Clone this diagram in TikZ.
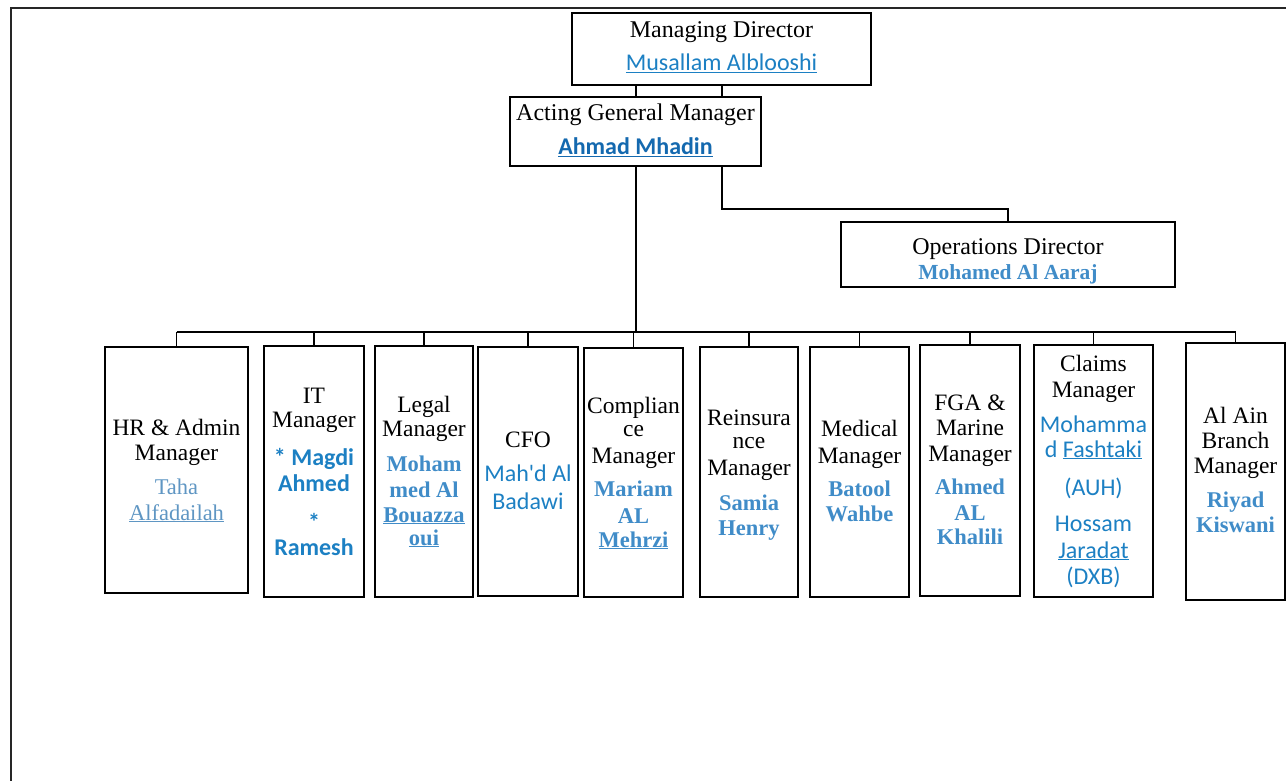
\documentclass[tikz,border=0pt]{standalone}
\usepackage{fontspec}
\setmainfont{Liberation Serif}
\newfontfamily\calib{Carlito}
\usetikzlibrary{fit}
\definecolor{nameblue}{RGB}{64,140,200}
\definecolor{sansblue}{RGB}{28,128,195}
\definecolor{darkblue}{RGB}{20,105,175}
\definecolor{lightblue}{RGB}{95,150,195}
\tikzset{
  box/.style={draw=black, line width=1.8pt, inner sep=0pt},
  link/.style={draw=black, line width=1.6pt},
  frameline/.style={draw=black!85, line width=1.2pt},
  ttl/.style={anchor=base, inner sep=0pt, font=\fontsize{23.5}{26}\selectfont},
  ttlbig/.style={anchor=base, inner sep=0pt, font=\fontsize{24}{26}\selectfont},
  nsr/.style={anchor=base, inner sep=0pt, text=nameblue, font=\fontsize{22.5}{25}\selectfont\bfseries},
  nsf/.style={anchor=base, inner sep=0pt, text=sansblue, font=\fontsize{24}{26}\selectfont\calib},
  nsfb/.style={anchor=base, inner sep=0pt, text=sansblue, font=\fontsize{24}{26}\selectfont\calib\bfseries},
}
\begin{document}
\begin{tikzpicture}[x=1pt,y=-1pt]
\useasboundingbox (0,0) rectangle (1286,781);
\draw[frameline] (11,781) -- (11,8) -- (1286,8);

% top boxes
\node[box, fit={(572,13) (871,85)}] (md) {};
\node[box, fit={(510,97) (761,166)}] (agm) {};
\node[box, fit={(841,222) (1175,287)}] (ops) {};

% bottom boxes
\node[box, fit={(105,347) (248,593)}] (hr) {};
\node[box, fit={(264,346) (364,597)}] (it) {};
\node[box, fit={(375,346) (473,597)}] (legal) {};
\node[box, fit={(478,347) (578,596)}] (cfo) {};
\node[box, fit={(584,348) (683,597)}] (comp) {};
\node[box, fit={(700,347) (798,597)}] (reins) {};
\node[box, fit={(810,347) (909,597)}] (med) {};
\node[box, fit={(920,345) (1020,596)}] (fga) {};
\node[box, fit={(1034,345) (1153,597)}] (claims) {};
\node[box, fit={(1186,343) (1285,600)}] (alain) {};

% connector coordinates
\coordinate (c1) at (636,0);
\coordinate (c2) at (722,0);
\coordinate (bus) at (0,332);
\coordinate (elbow) at (0,209);

\draw[link] (c1 |- md.south) -- (c1 |- agm.north);
\draw[link] (c2 |- md.south) -- (c2 |- agm.north);
\draw[link] (c1 |- agm.south) -- (c1 |- bus);
\draw[link] (c2 |- agm.south) |- (ops.north |- elbow) -- (ops.north);
\draw[link] (hr.north |- bus) -- (alain.north |- bus);
\foreach \b in {hr,it,legal,cfo,comp,reins,med,fga,claims,alain}
  \draw[link] (\b.north |- bus) -- (\b.north);

% top texts
\node[ttlbig] (md-a) at (721.5,38) {Managing Director};
\node[nsf] (md-b) at (721.5,71) {\underline{Musallam Alblooshi}};
\node[ttlbig] (agm-a) at (635.5,121) {Acting General Manager};
\node[nsfb, text=darkblue] (agm-b) at (635.5,155) {\underline{Ahmad Mhadin}};
\node[ttlbig] (ops-a) at (1008,254) {Operations Director};
\node[nsr, font=\fontsize{21.5}{24}\selectfont\bfseries] (ops-b) at (1008,279) {Mohamed Al Aaraj};

% HR
\node[ttl] (hr-a) at (176.5,435) {HR \& Admin};
\node[ttl] (hr-b) at (176.5,460) {Manager};
\node[nsr, text=lightblue, font=\fontsize{22.5}{25}\selectfont] (hr-c) at (176.5,494) {Taha};
\node[nsr, text=lightblue, font=\fontsize{22.5}{25}\selectfont] (hr-d) at (176.5,520) {\underline{Alfadailah}};
% IT
\node[ttl] (it-a) at (314,403) {IT};
\node[ttl] (it-b) at (314,427) {Manager};
\node[nsfb] (it-c) at (314,465) {* Magdi};
\node[nsfb] (it-d) at (314,491) {Ahmed};
\node[nsfb] (it-e) at (314,530) {*};
\node[nsfb] (it-f) at (314,555) {Ramesh};
% Legal
\node[ttl] (legal-a) at (424,412) {Legal};
\node[ttl] (legal-b) at (424,436) {Manager};
\node[nsr] (legal-c) at (424,471) {Moham};
\node[nsr] (legal-d) at (424,497) {med Al};
\node[nsr] (legal-e) at (424,522) {\underline{Bouazza}};
\node[nsr] (legal-f) at (424,545) {\underline{oui}};
% CFO
\node[ttl] (cfo-a) at (528,447) {CFO};
\node[nsf] (cfo-b) at (528,481) {Mah'd Al};
\node[nsf] (cfo-c) at (528,509) {Badawi};
% Compliance
\node[ttl] (comp-a) at (633.5,413) {Complian};
\node[ttl] (comp-b) at (633.5,436) {ce};
\node[ttl] (comp-c) at (633.5,463) {Manager};
\node[nsr] (comp-d) at (633.5,496) {Mariam};
\node[nsr] (comp-e) at (633.5,523) {AL};
\node[nsr] (comp-f) at (633.5,547) {\underline{Mehrzi}};
% Reinsurance
\node[ttl] (reins-a) at (749,425) {Reinsura};
\node[ttl] (reins-b) at (749,448) {nce};
\node[ttl] (reins-c) at (749,475) {Manager};
\node[nsr] (reins-d) at (749,510) {Samia};
\node[nsr] (reins-e) at (749,535) {Henry};
% Medical
\node[ttl] (med-a) at (859.5,436) {Medical};
\node[ttl] (med-b) at (859.5,463) {Manager};
\node[nsr] (med-c) at (859.5,496) {Batool};
\node[nsr] (med-d) at (859.5,521) {Wahbe};
% FGA
\node[ttl] (fga-a) at (970,410) {FGA \&};
\node[ttl] (fga-b) at (970,435) {Marine};
\node[ttl] (fga-c) at (970,461) {Manager};
\node[nsr] (fga-d) at (970,494) {Ahmed};
\node[nsr] (fga-e) at (970,520) {AL};
\node[nsr] (fga-f) at (970,544) {Khalili};
% Claims
\node[ttl] (claims-a) at (1093.5,371) {Claims};
\node[ttl] (claims-b) at (1093.5,397) {Manager};
\node[nsf] (claims-c) at (1093.5,432) {Mohamma};
\node[nsf] (claims-d) at (1093.5,457) {d \underline{Fashtaki}};
\node[nsf] (claims-e) at (1093.5,495) {(AUH)};
\node[nsf] (claims-f) at (1093.5,531) {Hossam};
\node[nsf] (claims-g) at (1093.5,558) {\underline{Jaradat}};
\node[nsf] (claims-h) at (1093.5,584) {(DXB)};
% Al Ain
\node[ttl] (alain-a) at (1235.5,423) {Al Ain};
\node[ttl] (alain-b) at (1235.5,448) {Branch};
\node[ttl] (alain-c) at (1235.5,473) {Manager};
\node[nsr] (alain-d) at (1235.5,507) {Riyad};
\node[nsr] (alain-e) at (1235.5,532) {Kiswani};
\end{tikzpicture}
\end{document}
